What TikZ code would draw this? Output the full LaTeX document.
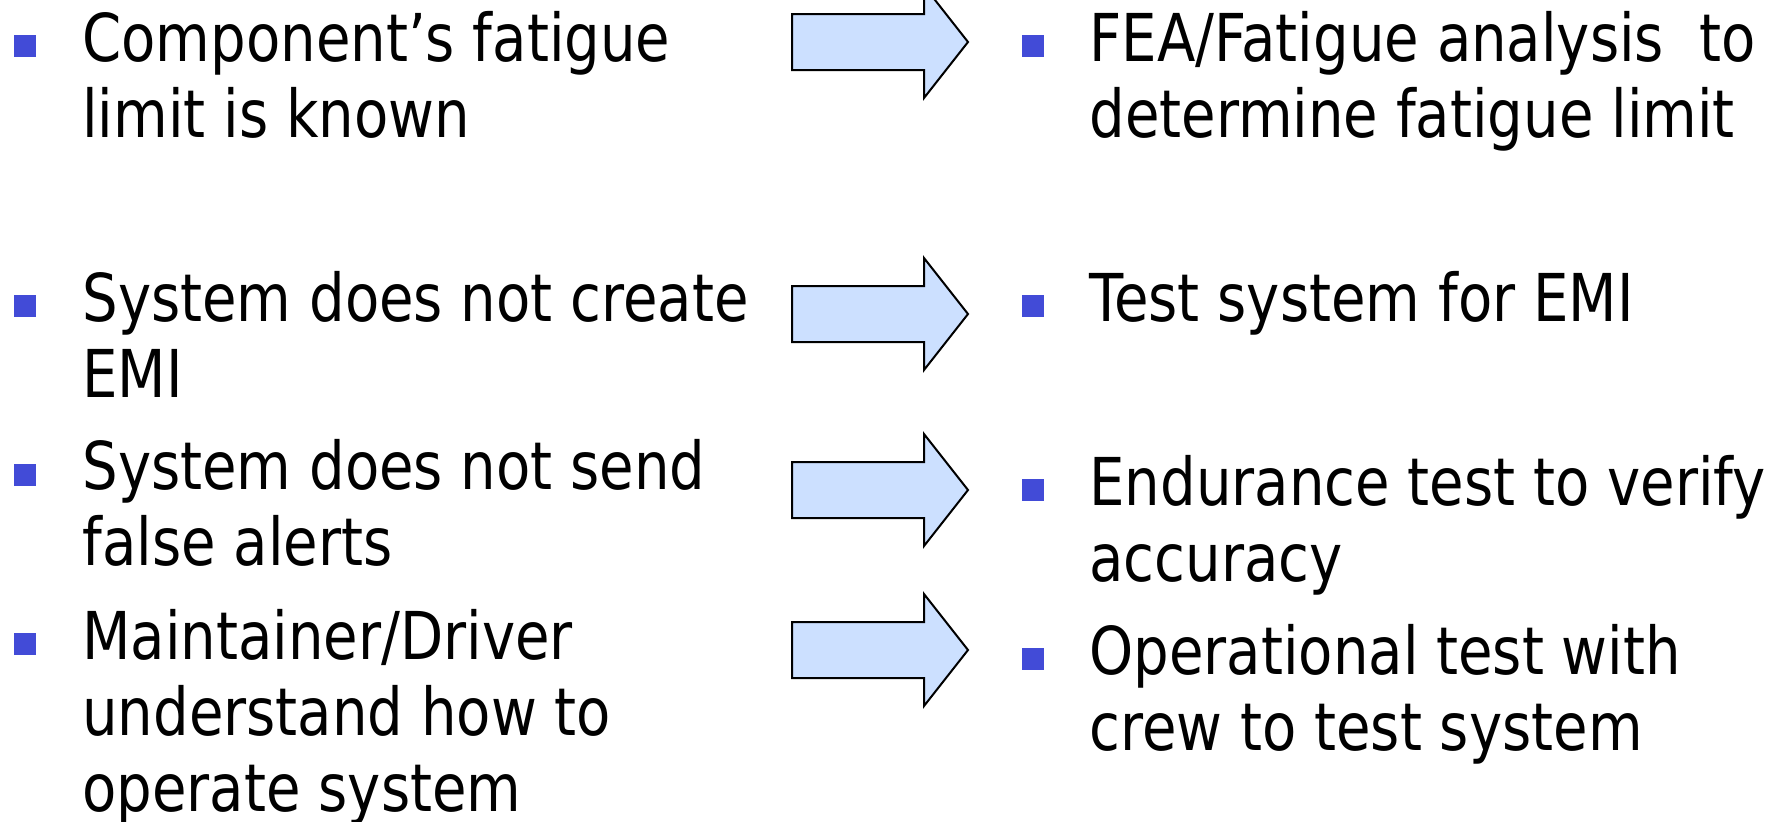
\documentclass[tikz,border=0pt]{standalone}
\usepackage{fontspec}
\setmainfont{DejaVu Sans}[FakeStretch=0.85]
\definecolor{bulletblue}{RGB}{66,75,215}
\definecolor{arrowblue}{RGB}{204,224,255}
\begin{document}
\begin{tikzpicture}[x=0.5pt,y=-0.5pt,
  txt/.style={anchor=base west,inner sep=0pt,font=\fontsize{33}{38}\selectfont},
  bul/.style={fill=bulletblue,minimum size=11pt,inner sep=0pt},
  bigarrow/.style={draw=black,line width=1pt,fill=arrowblue,line join=miter}]
\useasboundingbox (0,0) rectangle (1788,821);
% left column
\node[bul] (bl1) at (25,46) {};
\node[txt] (tl1) at (82,61) {\vtop{\hbox{Component’s fatigue}\hbox{limit is known}}};
\node[bul] (bl2) at (25,306) {};
\node[txt] (tl2) at (82,321) {\vtop{\hbox{System does not create}\hbox{EMI}}};
\node[bul] (bl3) at (25,475) {};
\node[txt] (tl3) at (82,489) {\vtop{\hbox{System does not send}\hbox{false alerts}}};
\node[bul] (bl4) at (25,644) {};
\node[txt] (tl4) at (82,659) {\vtop{\hbox{Maintainer/Driver}\hbox{understand how to}\hbox{operate system}}};
% right column
\node[bul] (br1) at (1033,46) {};
\node[txt] (tr1) at (1089,61) {\vtop{\hbox{FEA/Fatigue analysis \ to}\hbox{determine fatigue limit}}};
\node[bul] (br2) at (1033,306) {};
\node[txt] (tr2) at (1089,321) {\vtop{\hbox{Test system for EMI}}};
\node[bul] (br3) at (1033,490) {};
\node[txt] (tr3) at (1089,505) {\vtop{\hbox{Endurance test to verify}\hbox{accuracy}}};
\node[bul] (br4) at (1033,659) {};
\node[txt] (tr4) at (1089,674) {\vtop{\hbox{Operational test with}\hbox{crew to test system}}};
% arrows
\foreach \c in {42,314,490,650}{
  \draw[bigarrow] (792,\c-28) -- (924,\c-28) -- (924,\c-56) -- (968,\c)
    -- (924,\c+56) -- (924,\c+28) -- (792,\c+28) -- cycle;
}
\end{tikzpicture}
\end{document}
